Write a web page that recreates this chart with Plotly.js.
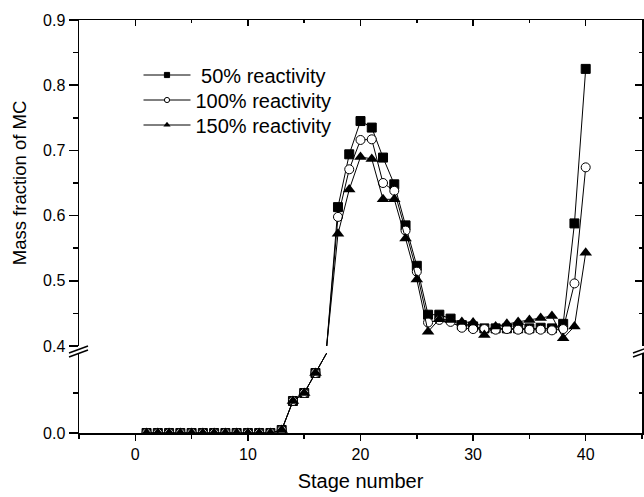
<!DOCTYPE html>
<html>
<head>
<meta charset="utf-8">
<script src="https://cdn.plot.ly/plotly-3.0.1.min.js"></script>
<style>html,body{margin:0;padding:0;background:#fff;}#chart{width:644px;height:497px;}</style>
</head>
<body>
<div id="chart"></div>
<script>
const stages = [1,2,3,4,5,6,7,8,9,10,11,12,13,14,15,16,17,18,19,20,21,22,23,24,25,26,27,28,29,30,31,32,33,34,35,36,37,38,39,40];
const mc50  = [0,0,0,0,0,0,0,0,0,0,0,0,0.015,0.16,0.20,0.30,0.40,0.613,0.694,0.745,0.735,0.689,0.648,0.585,0.523,0.448,0.448,0.442,0.432,0.430,0.427,0.427,0.427,0.427,0.427,0.428,0.427,0.434,0.588,0.825];
const mc100 = [0,0,0,0,0,0,0,0,0,0,0,0,0.015,0.16,0.20,0.30,0.40,0.598,0.671,0.716,0.717,0.650,0.638,0.577,0.514,0.436,0.440,0.437,0.428,0.426,0.426,0.425,0.426,0.425,0.425,0.425,0.424,0.426,0.496,0.674];
const mc150 = [0,0,0,0,0,0,0,0,0,0,0,0,0.015,0.16,0.20,0.30,0.40,0.572,0.640,0.690,0.687,0.625,0.625,0.565,0.502,0.422,0.441,0.440,0.437,0.436,0.417,0.430,0.434,0.437,0.440,0.443,0.446,0.412,0.430,0.543];
const seriesNames = ['50% reactivity', '100% reactivity', '150% reactivity'];
const xTicks = [0,10,20,30,40];
const upperTicks = [0.4,0.5,0.6,0.7,0.8,0.9];
const upperTickText = ['0.4','0.5','0.6','0.7','0.8','0.9'];
const lowerTicks = [0.0];
const lowerTickText = ['0.0'];
const BREAK = 0.4;

const W = 644, H = 497;
const mL = 79, mR = 2, mT = 20, mB = 64;
const plotW = W - mL - mR, plotH = H - mT - mB;
const upperBottomPx = 346, lowerTopPx = 353, bottomPx = H - mB;
const upperDomain = [(bottomPx - upperBottomPx) / plotH, 1];
const lowerDomain = [0, (bottomPx - lowerTopPx) / plotH];
const px = x => (x - mL) / plotW;
const py = y => (bottomPx - y) / plotH;

const FONT = 'Arial, "Liberation Sans", sans-serif';
const namePad = ['\u00A0', '', ''];
const styles = [
  {symbol: 'square', size: 9, color: 'rgb(0,0,0)', line: {color: 'rgb(0,0,0)', width: 1}},
  {symbol: 'circle', size: 9, color: 'rgb(255,255,255)', line: {color: 'rgb(0,0,0)', width: 1}},
  {symbol: 'triangle-up', size: 11, color: 'rgb(0,0,0)', line: {color: 'rgb(0,0,0)', width: 0}}
];
const legendKeys = ['legend', 'legend2', 'legend3'];
const data = [];
[mc50, mc100, mc150].forEach((vals, i) => {
  const st = styles[i];
  const lowSizes = vals.map(v => v < BREAK - 0.005 ? st.size : 0);
  const upSizes = vals.map(v => v > BREAK + 0.005 ? st.size : 0);
  const base = {
    x: stages, y: vals, mode: 'lines+markers', name: namePad[i] + seriesNames[i],
    line: {color: 'rgb(0,0,0)', width: 1},
    cliponaxis: true, hoverinfo: 'skip'
  };
  data.push(Object.assign({}, base, {xaxis: 'x', yaxis: 'y', showlegend: false,
    marker: {symbol: st.symbol, size: lowSizes, color: st.color, opacity: 1, line: st.line}}));
  data.push(Object.assign({}, base, {xaxis: 'x', yaxis: 'y2', showlegend: true, legend: legendKeys[i],
    marker: {symbol: st.symbol, size: upSizes, color: st.color, opacity: 1, line: st.line}}));
});
data.push({x: [], y: [], xaxis: 'x2', yaxis: 'y3', showlegend: false, hoverinfo: 'skip'});
data.push({x: [], y: [], xaxis: 'x', yaxis: 'y4', showlegend: false, hoverinfo: 'skip'});

const tickFont = {family: FONT, size: 16, color: '#000'};
const legendBase = (rowY) => ({x: px(138.5), y: py(rowY), xanchor: 'left', yanchor: 'middle', itemwidth: 47,
  bgcolor: 'rgba(0,0,0,0)', borderwidth: 0, font: {family: FONT, size: 20, color: '#000'}});
const layout = {
  width: W, height: H,
  margin: {l: mL, r: mR, t: mT, b: mB, pad: 0},
  paper_bgcolor: '#fff', plot_bgcolor: '#fff',
  font: {family: FONT, color: '#000'},
  showlegend: true,
  legend: legendBase(75),
  legend2: legendBase(100),
  legend3: legendBase(125),
  xaxis: {range: [-5, 45], domain: [0, 1], anchor: 'y', showgrid: false, zeroline: false,
          showline: true, linecolor: '#000', linewidth: 1.5,
          tickmode: 'array', tickvals: xTicks, ticktext: xTicks.map(String),
          ticks: 'outside', ticklen: 6, tickwidth: 1.5, tickcolor: '#000', tickfont: tickFont,
          minor: {dtick: 5, tick0: 0, ticks: 'outside', ticklen: 4, tickwidth: 1.5, tickcolor: '#000', showgrid: false},
          title: {text: 'Stage number', font: {family: FONT, size: 20, color: '#000'}, standoff: 12}},
  xaxis2: {range: [-5, 45], overlaying: 'x', side: 'top', anchor: 'y2', matches: 'x',
           showgrid: false, zeroline: false, showline: true, linecolor: '#000', linewidth: 1.5,
           tickmode: 'array', tickvals: xTicks, ticks: 'inside', ticklen: 6, tickwidth: 1.5, tickcolor: '#000',
           showticklabels: false,
           minor: {dtick: 5, tick0: 0, ticks: 'inside', ticklen: 3, tickwidth: 1.5, tickcolor: '#000', showgrid: false}},
  yaxis: {range: [0, 0.4], domain: lowerDomain, anchor: 'x', showgrid: false, zeroline: false,
          showline: true, linecolor: '#000', linewidth: 1.5,
          tickmode: 'array', tickvals: lowerTicks, ticktext: lowerTickText,
          ticks: 'outside', ticklen: 9, tickwidth: 1.5, tickcolor: '#000', tickfont: tickFont,
          minor: {tickmode: 'array', tickvals: [0.2], ticks: 'outside', ticklen: 5, tickwidth: 1.5, tickcolor: '#000', showgrid: false}},
  yaxis2: {range: [0.4, 0.9], domain: upperDomain, anchor: 'x', showgrid: false, zeroline: false,
           showline: true, linecolor: '#000', linewidth: 1.5,
           tickmode: 'array', tickvals: upperTicks, ticktext: upperTickText,
           ticks: 'outside', ticklen: 9, tickwidth: 1.5, tickcolor: '#000', tickfont: tickFont,
           minor: {dtick: 0.05, tick0: 0.4, ticks: 'outside', ticklen: 5, tickwidth: 1.5, tickcolor: '#000', showgrid: false},
           title: {text: 'Mass fraction of MC', font: {family: FONT, size: 18.5, color: '#000'}, standoff: 11}},
  yaxis3: {range: [0.4, 0.9], overlaying: 'y2', side: 'right', anchor: 'x', showgrid: false, zeroline: false,
           showline: true, linecolor: '#000', linewidth: 1.5,
           tickmode: 'array', tickvals: upperTicks, ticks: 'inside', ticklen: 7, tickwidth: 1.5, tickcolor: '#000',
           showticklabels: false,
           minor: {dtick: 0.05, tick0: 0.4, ticks: 'inside', ticklen: 3, tickwidth: 1.5, tickcolor: '#000', showgrid: false}},
  yaxis4: {range: [0, 0.4], overlaying: 'y', side: 'right', anchor: 'x', showgrid: false, zeroline: false,
           showline: true, linecolor: '#000', linewidth: 1.5,
           tickmode: 'array', tickvals: lowerTicks, ticks: 'inside', ticklen: 7, tickwidth: 1.5, tickcolor: '#000',
           showticklabels: false,
           minor: {tickmode: 'array', tickvals: [0.2], ticks: 'inside', ticklen: 3, tickwidth: 1.5, tickcolor: '#000', showgrid: false}},
  shapes: [
    {type: 'line', xref: 'paper', yref: 'paper', x0: px(69), y0: py(357), x1: px(88), y1: py(350), line: {color: '#000', width: 1.5}},
    {type: 'line', xref: 'paper', yref: 'paper', x0: px(69), y0: py(353), x1: px(88), y1: py(346), line: {color: '#000', width: 1.5}},
    {type: 'line', xref: 'paper', yref: 'paper', x0: px(633), y0: py(357), x1: px(652), y1: py(350), line: {color: '#000', width: 1.5}},
    {type: 'line', xref: 'paper', yref: 'paper', x0: px(633), y0: py(353), x1: px(652), y1: py(346), line: {color: '#000', width: 1.5}}
  ]
};
Plotly.newPlot('chart', data, layout, {displayModeBar: false, staticPlot: true});
</script>
</body>
</html>
